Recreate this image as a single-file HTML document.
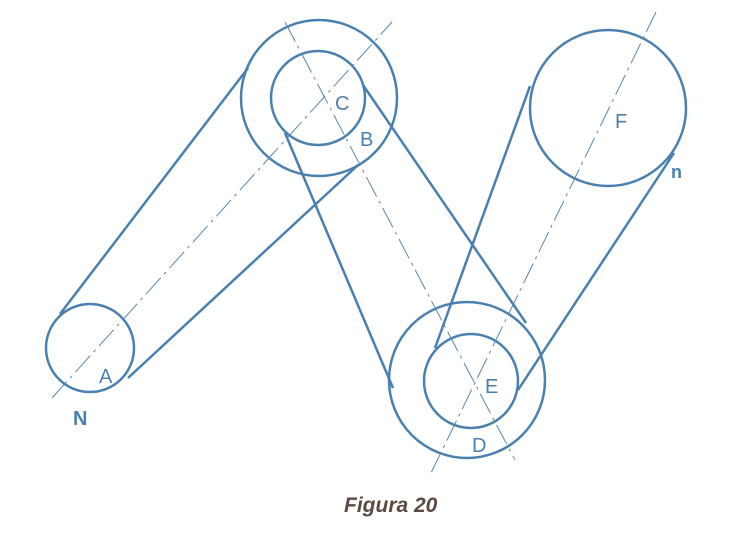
<!DOCTYPE html>
<html><head><style>body{margin:0;background:#fff}</style></head><body>
<svg width="735" height="550" viewBox="0 0 735 550" xmlns="http://www.w3.org/2000/svg">
<g stroke="#4a80b0" fill="none" stroke-width="2.5">
<circle cx="90" cy="348" r="44"/>
<circle cx="319" cy="98" r="78"/>
<circle cx="318" cy="98" r="47"/>
<circle cx="467" cy="380" r="78"/>
<circle cx="471" cy="381" r="47"/>
<circle cx="608" cy="108" r="78"/>
<line x1="60" y1="314" x2="248" y2="68"/>
<line x1="128" y1="378" x2="358" y2="165"/>
<line x1="285" y1="133" x2="393" y2="388"/>
<line x1="363" y1="85" x2="526" y2="323"/>
<line x1="435" y1="348" x2="530" y2="86"/>
<line x1="518" y1="390" x2="674" y2="153"/>
</g>
<g stroke="#5a86aa" fill="none" stroke-width="1" stroke-dasharray="22,5,3,5">
<line x1="52" y1="398" x2="392" y2="22"/>
<line x1="285" y1="22" x2="515" y2="460"/>
<line x1="656" y1="12" x2="430" y2="475"/>
</g>
<g fill="#4a80b0" font-family="Liberation Sans, sans-serif" font-size="20">
<text x="99" y="383">A</text>
<text x="360" y="146">B</text>
<text x="335" y="110">C</text>
<text x="472" y="452">D</text>
<text x="485" y="393">E</text>
<text x="615" y="128">F</text>
<text x="73" y="425" font-weight="bold" font-size="20">N</text>
<text x="671" y="178" font-weight="bold" font-size="18">n</text>
</g>
<text x="344" y="512" fill="#5a4a40" font-family="Liberation Sans, sans-serif" font-size="21" font-weight="bold" font-style="italic">Figura 20</text>
</svg>
</body></html>
